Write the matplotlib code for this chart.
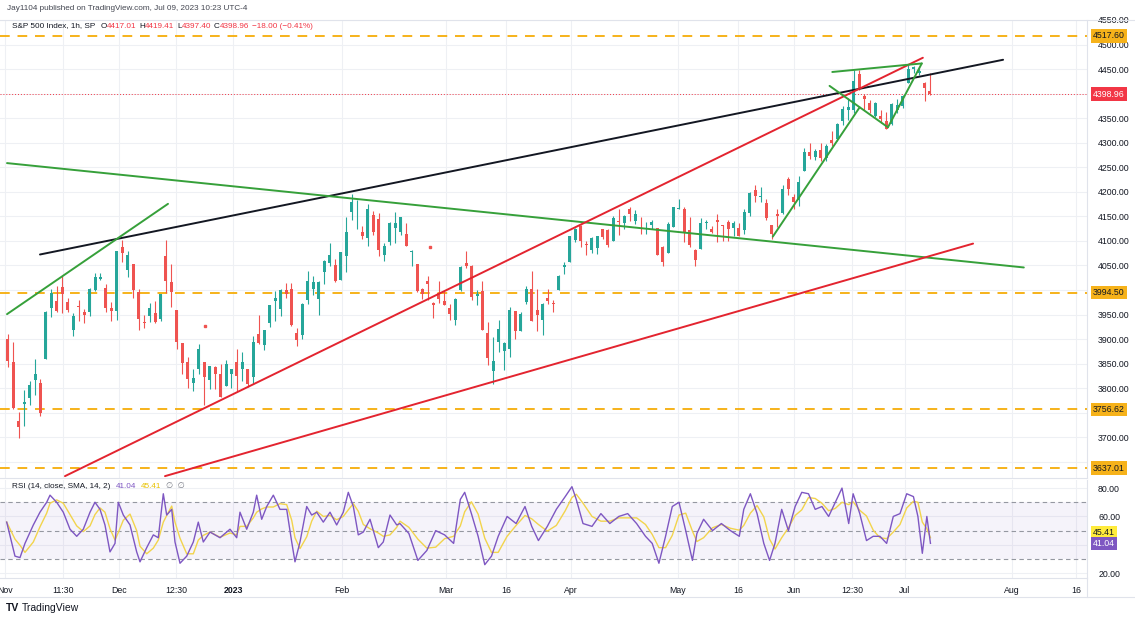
import numpy as np
import pandas as pd
import matplotlib
matplotlib.use("Agg")
import matplotlib.pyplot as plt
from matplotlib.lines import Line2D

W, H = 1135, 619
plt.rcParams['font.family'] = ['Liberation Sans', 'DejaVu Sans']

# S&P 500, one candle per trading day (Nov 1 2022 .. Jul 7 2023)
opens = [3901, 3853, 3733, 3767, 3780, 3817, 3810, 3860, 3964, 3977, 4006, 3976, 3919, 3967, 3956, 3956, 4000, 4023, 4005, 3964, 3958,
         4087, 4041, 4053, 3996, 3934, 3947, 3954, 3940, 4069, 4016, 3959, 3891, 3854, 3811, 3839, 3853, 3816, 3843, 3829, 3805, 3829,
         3853, 3840, 3840, 3823, 3910, 3888, 3932, 3977, 3961, 3999, 4002, 3912, 3909, 3979, 4001, 3982, 4036, 4054, 4050, 4021,
         4070, 4158, 4136, 4119, 4105, 4153, 4144, 4071, 4097, 4126, 4119, 4114, 4077, 4052, 4001, 4018, 3974, 3993, 3977,
         3964, 3938, 3999, 4055, 4049, 3987, 3998, 3912, 3835, 3894, 3876, 3879, 3958, 3917, 3975, 4002, 3959, 3939, 3983, 3974, 3999, 4047, 4056,
         4102, 4130, 4094, 4082, 4085, 4125, 4122, 4100, 4140, 4137, 4164, 4140, 4131, 4132, 4133, 4126, 4088, 4075, 4129,
         4166, 4165, 4122, 4082, 4084, 4136, 4124, 4143, 4133, 4138, 4127, 4127, 4122, 4157, 4204, 4190, 4177, 4132, 4155, 4157, 4226, 4190,
         4183, 4242, 4282, 4271, 4285, 4268, 4305, 4308, 4345, 4366, 4366, 4440, 4396, 4380, 4355, 4354, 4344, 4338, 4367, 4374, 4422,
         4450, 4442, 4422, 4405]
highs = [3911, 3894, 3751, 3796, 3814, 3859, 3818, 3958, 4001, 4009, 4028, 3984, 3954, 3979, 3962, 4004, 4034, 4035, 4012, 3976, 4080,
         4101, 4080, 4053, 4001, 3950, 3974, 3977, 3991, 4101, 4053, 3960, 3891, 3863, 3839, 3889, 3853, 3846, 3846, 3849, 3858, 3840,
         3879, 3874, 3840, 3906, 3950, 3919, 3970, 3997, 4003, 4015, 4014, 3923, 3973, 4039, 4028, 4019, 4061, 4095, 4063, 4077,
         4148, 4195, 4183, 4131, 4176, 4161, 4157, 4095, 4138, 4159, 4148, 4136, 4081, 4052, 4004, 4028, 3976, 4018, 3997,
         3972, 3984, 4048, 4079, 4051, 4000, 4018, 3935, 3905, 3938, 3894, 3965, 3958, 3956, 4009, 4039, 4003, 3973, 4003, 3980, 4031, 4057, 4110,
         4127, 4133, 4100, 4108, 4110, 4125, 4125, 4150, 4164, 4152, 4170, 4162, 4148, 4138, 4143, 4127, 4090, 4139, 4170,
         4186, 4169, 4148, 4083, 4147, 4143, 4131, 4154, 4133, 4143, 4141, 4136, 4164, 4199, 4213, 4210, 4185, 4132, 4166, 4213, 4231, 4195,
         4232, 4290, 4300, 4288, 4299, 4298, 4323, 4340, 4375, 4391, 4448, 4448, 4400, 4387, 4382, 4366, 4363, 4380, 4390, 4398, 4458,
         4456, 4454, 4423, 4443]
lows = [3843, 3758, 3698, 3722, 3766, 3786, 3744, 3860, 3944, 3956, 3953, 3956, 3907, 3936, 3933, 3947, 3998, 4020, 3956, 3937, 3938,
        4057, 4027, 3984, 3918, 3922, 3935, 3933, 3937, 3994, 3966, 3880, 3828, 3800, 3795, 3828, 3765, 3798, 3798, 3783, 3805, 3801,
        3795, 3815, 3802, 3809, 3890, 3878, 3925, 3937, 3947, 3984, 3926, 3886, 3900, 3971, 3990, 3950, 4013, 4048, 4017, 4020,
        4037, 4142, 4124, 4104, 4089, 4113, 4070, 4060, 4092, 4095, 4113, 4089, 4048, 3995, 3981, 3979, 3943, 3974, 3969,
        3939, 3928, 3997, 4044, 3980, 3970, 3918, 3847, 3809, 3874, 3838, 3864, 3901, 3916, 3971, 3936, 3917, 3909, 3971, 3956, 3999, 4032, 4056,
        4098, 4087, 4072, 4076, 4073, 4103, 4087, 4100, 4113, 4124, 4140, 4135, 4114, 4114, 4125, 4071, 4049, 4075, 4128,
        4164, 4097, 4088, 4048, 4084, 4124, 4116, 4098, 4099, 4099, 4110, 4109, 4114, 4150, 4180, 4180, 4142, 4104, 4129, 4155, 4193, 4166,
        4171, 4242, 4267, 4264, 4263, 4262, 4293, 4304, 4337, 4346, 4361, 4407, 4367, 4360, 4352, 4341, 4328, 4337, 4361, 4371, 4422,
        4442, 4437, 4385, 4397]
closes = [3856, 3759, 3720, 3771, 3807, 3828, 3749, 3956, 3993, 3957, 3992, 3959, 3947, 3965, 3950, 4003, 4027, 4026, 3964, 3958, 4080,
          4076, 4072, 3999, 3941, 3933, 3964, 3934, 3991, 4019, 3996, 3895, 3852, 3818, 3821, 3879, 3822, 3845, 3829, 3783, 3849, 3840,
          3825, 3853, 3808, 3895, 3893, 3919, 3970, 3983, 3999, 3991, 3929, 3899, 3972, 4019, 4017, 4016, 4060, 4071, 4018, 4077,
          4119, 4180, 4136, 4111, 4164, 4118, 4082, 4090, 4137, 4136, 4148, 4090, 4079, 3997, 3991, 4012, 3970, 3982, 3970,
          3951, 3981, 4046, 4048, 3986, 3992, 3918, 3862, 3855, 3920, 3892, 3960, 3917, 3951, 4003, 3937, 3949, 3971, 3977, 3971, 4028, 4051, 4109,
          4124, 4100, 4091, 4105, 4109, 4108, 4092, 4146, 4138, 4151, 4154, 4155, 4130, 4133, 4138, 4072, 4056, 4135, 4169,
          4167, 4119, 4091, 4061, 4136, 4138, 4119, 4138, 4130, 4124, 4136, 4110, 4158, 4198, 4192, 4192, 4146, 4115, 4151, 4205, 4206, 4180,
          4221, 4282, 4273, 4284, 4268, 4293, 4299, 4338, 4369, 4373, 4426, 4410, 4389, 4366, 4381, 4348, 4328, 4378, 4376, 4396, 4450,
          4455, 4447, 4411, 4398.96]

# odd single prints
stray_day = [36.65, 77.88]
stray_price = [3926, 4088]

rsi_day = [0.31, 1.83, 2.75, 3.66, 5.19, 6.41, 7.64, 8.25, 9.47, 10.68, 11.91, 13.14, 14.35, 15.58, 16.49, 17.41,
           18.32, 19.24, 20.16, 20.76, 21.68, 22.91, 24.13, 24.74, 25.97, 27.18, 28.09, 29.01, 29.63, 30.55, 31.15,
           32.07, 33.30, 34.51, 35.42, 36.34, 37.57, 39.40, 41.23, 42.46, 43.06, 44.29, 45.50, 46.12, 47.04, 47.96,
           49.17, 50.39, 51.62, 52.54, 53.14, 54.06, 55.29, 56.20, 57.12, 58.33, 59.56, 60.78, 61.99, 62.91, 63.83,
           64.74, 65.66, 66.89, 68.41, 69.32, 70.55, 71.78, 72.38, 74.01, 75.66, 77.30, 78.93, 80.56, 82.21, 83.44,
           84.24, 85.47, 86.70, 87.92, 89.15, 90.38, 92.01, 93.66, 95.29, 96.52, 97.75, 99.38, 101.03, 102.66, 103.89,
           104.69, 105.92, 107.57, 109.20, 110.83, 112.48, 114.11, 115.74, 117.37, 118.60, 119.83, 121.05, 122.28,
           123.51, 124.74, 125.97, 126.79, 128.02, 129.65, 131.28, 132.93, 134.56, 135.38, 136.59, 137.82, 139.05,
           140.11, 141.10, 142.33, 143.56, 144.79, 146.01, 147.24, 148.47, 149.70, 150.93, 152.15, 153.38, 154.61,
           155.42, 156.64, 157.87, 159.10, 160.33, 161.56, 162.78, 164.01, 165.24, 166.47, 167.29, 168.10, 168.93, 169.59]
rsi_val = [56, 32, 31, 41, 54, 63, 70, 75, 70, 63, 51, 46, 51, 63, 70, 65,
           54, 35, 41, 70, 61, 54, 35, 28, 38, 47, 45, 76, 61, 65, 42,
           27, 32, 42, 56, 42, 49, 45, 51, 45, 63, 51, 63, 75, 58, 67,
           75, 65, 65, 42, 28, 42, 67, 61, 63, 56, 63, 54, 63, 77, 67,
           47, 49, 58, 38, 42, 61, 54, 55, 48, 29, 36, 50, 47, 41, 72,
           77, 62, 46, 26, 32, 46, 60, 55, 67, 53, 43, 53, 65, 74, 81,
           72, 55, 53, 62, 55, 60, 62, 55, 46, 41, 27, 46, 67,
           70, 50, 29, 48, 58, 50, 55, 50, 46, 65, 76, 62, 41,
           29, 41, 65, 50, 67, 77, 76, 65, 67, 60, 70, 80, 55,
           76, 62, 43, 46, 46, 41, 60, 62, 76, 74, 60, 34, 60, 41.04]
rsi_last, sma_last = 41.04, 45.41

# drawn trend lines: (days, prices, colour)
trend_lines = [
    ([6.41, 182.9], [4072.3, 4469.0], "#131722"),
    ([0.37, 186.7], [4258.5, 4045.9], "#36a03a"),
    ([0.37, 29.87], [3950.8, 4175.5], "#36a03a"),
    ([10.99, 168.2], [3620.8, 4473.1], "#e3242f"),
    ([29.32, 177.4], [3620.8, 4094.5], "#e3242f"),
    ([151.6, 168.0], [4444.1, 4461.5], "#36a03a"),
    ([151.1, 161.8], [4415.8, 4331.4], "#36a03a"),
    ([161.8, 168.0], [4331.4, 4461.5], "#36a03a"),
    ([140.7, 156.6], [4108.7, 4371.9], "#36a03a"),
]
levels = [4517.60, 3994.50, 3756.62, 3637.01]
last_price = 4398.96

price_ticks = [3650, 3700, 3750, 3800, 3850, 3900, 3950, 4000, 4050, 4100, 4150, 4200,
               4250, 4300, 4350, 4400, 4450, 4500, 4550]
hidden_ticks = [3650, 3750, 4000, 4400]   # covered by the level labels

tick_day = [0, 10.6, 20.9, 31.3, 41.8, 61.8, 80.8, 91.8, 103.7, 123.3, 134.3, 144.6, 155.2, 164.9, 184.5, 196.3]
tick_text = ["Nov", "11:30", "Dec", "12:30", "2023", "Feb", "Mar", "16", "Apr", "May", "16", "Jun", "12:30", "Jul", "Aug", "16"]

UP, DOWN = "#26a69a", "#ef5350"
YEL = "#f6b21a"
PURPLE = "#7e57c2"
GRID = "#eef0f4"
BORDER = "#e0e3eb"
TXT = "#131722"
FS = 6.3
HFS = 5.9


def fx(px):
    return px / W


def fy(py):
    return 1 - py / H


fig = plt.figure(figsize=(W / 100, H / 100), dpi=100)
ax = fig.add_axes([0, fy(478), fx(1087), (478 - 20) / H])
rx = fig.add_axes([0, fy(578), fx(1087), (578 - 480) / H], sharex=ax)

# candles
o, h, l, c = map(np.asarray, (opens, highs, lows, closes))
days = np.arange(len(c)) + 0.5
cols = np.where(c >= o, UP, DOWN)
ax.vlines(days, l, h, colors=cols, lw=0.8, zorder=3)
ax.bar(days, np.maximum(np.abs(c - o), 1.0), bottom=np.minimum(o, c), width=0.55,
       color=cols, linewidth=0, zorder=3)
ax.plot(stray_day, stray_price, 's', color=DOWN, ms=1.6, zorder=3)

for xs, ys, col in trend_lines:
    ax.plot(xs, ys, color=col, lw=1.4, zorder=4, solid_capstyle='round')

for v in levels:
    ax.axhline(v, color=YEL, lw=1.4, dashes=(5, 4), zorder=2)
ax.axhline(last_price, color="#f23645", lw=0.7, dashes=(1, 2), zorder=2)

ax.set_xlim(-5 / 5.457, 1082 / 5.457)
ax.set_ylim(3617, 4544)
ax.set_yticks(price_ticks)
ax.set_yticklabels(["" if v in hidden_ticks else f"{v:.2f}" for v in price_ticks])
ax.yaxis.tick_right()
ax.tick_params(axis='y', length=0, pad=8, labelsize=FS, labelcolor=TXT)
ax.tick_params(axis='x', length=0, labelbottom=False)
ax.set_xticks(tick_day)
ax.grid(True, color=GRID, lw=0.8, zorder=0)
ax.set_axisbelow(True)
for s in ['top', 'left']:
    ax.spines[s].set_visible(False)
for s in ['right', 'bottom']:
    ax.spines[s].set_color(BORDER)

# price labels on the scale
for v in levels:
    ax.annotate(f"{v:.2f}", xy=(1.0, v), xycoords=('axes fraction', 'data'), xytext=(6, 0),
                textcoords='offset pixels', va='center', ha='left', fontsize=FS, color=TXT,
                bbox=dict(boxstyle='square,pad=0.25', fc=YEL, ec='none'), annotation_clip=False, zorder=5)
ax.annotate(f"{last_price:.2f}", xy=(1.0, last_price), xycoords=('axes fraction', 'data'), xytext=(6, 0),
            textcoords='offset pixels', va='center', ha='left', fontsize=FS, color='white',
            bbox=dict(boxstyle='square,pad=0.25', fc="#f23645", ec='none'), annotation_clip=False, zorder=5)

# RSI pane
rsi_sma = pd.Series(rsi_val).rolling(3, min_periods=1).mean()
rx.axhspan(30, 70, color=PURPLE, alpha=0.07, lw=0, zorder=1)
for v in (70, 50, 30):
    rx.axhline(v, color="#9598a1", lw=0.8, dashes=(4, 3), zorder=2)
rx.plot(rsi_day, rsi_sma, color="#f2d44c", lw=1.0, zorder=3)
rx.plot(rsi_day, rsi_val, color=PURPLE, lw=1.0, zorder=4)
rx.set_ylim(16.6, 85.7)
rx.set_yticks([20, 40, 60, 80])
rx.set_yticklabels(["20.00", "", "60.00", "80.00"])
rx.yaxis.tick_right()
rx.tick_params(axis='y', length=0, pad=8, labelsize=FS, labelcolor=TXT)
rx.set_xticks(tick_day)
rx.set_xticklabels(tick_text)
rx.tick_params(axis='x', length=0, pad=6, labelsize=FS, labelcolor=TXT)
for t in rx.get_xticklabels():
    if t.get_text() == "2023":
        t.set_fontweight('bold')
rx.grid(True, color=GRID, lw=0.8, zorder=0)
rx.set_axisbelow(True)
for s in ['top', 'left']:
    rx.spines[s].set_visible(False)
for s in ['right', 'bottom']:
    rx.spines[s].set_color(BORDER)
rx.annotate(f"{sma_last:.2f}", xy=(1.0, 48.6), xycoords=('axes fraction', 'data'), xytext=(6, 0),
            textcoords='offset pixels', va='center', ha='left', fontsize=FS, color=TXT,
            bbox=dict(boxstyle='square,pad=0.25', fc="#ffeb3b", ec='none'), annotation_clip=False, zorder=5)
rx.annotate(f"{rsi_last:.2f}", xy=(1.0, 41.04), xycoords=('axes fraction', 'data'), xytext=(6, 0),
            textcoords='offset pixels', va='center', ha='left', fontsize=FS, color='white',
            bbox=dict(boxstyle='square,pad=0.25', fc=PURPLE, ec='none'), annotation_clip=False, zorder=5)

# frame lines
fig.add_artist(Line2D([0, 1], [fy(597), fy(597)], color=BORDER, lw=0.8))
fig.add_artist(Line2D([fx(1087), fx(1087)], [fy(578), fy(597)], color=BORDER, lw=0.8))
fig.add_artist(Line2D([0, 1], [fy(20), fy(20)], color=BORDER, lw=0.8))

# header texts
renderer = fig.canvas.get_renderer()


def text_run(x_px, y_px, pieces, size):
    x = x_px
    for s, col, gap in pieces:
        t = fig.text(fx(x), fy(y_px), s, color=col, fontsize=size, va='center', ha='left')
        x += t.get_window_extent(renderer=renderer).width + gap


RED = "#f23645"
fig.text(fx(7), fy(8), "Jay1104 published on TradingView.com, Jul 09, 2023 10:23 UTC-4",
         fontsize=HFS, color="#434651", va='center', ha='left')
text_run(12, 26, [("S&P 500 Index, 1h, SP", TXT, 5), ("O", TXT, 0), ("4417.01", RED, 3),
                  ("H", TXT, 0), ("4419.41", RED, 3), ("L", TXT, 0), ("4397.40", RED, 3),
                  ("C", TXT, 0), ("4398.96", RED, 3), ("\u221218.00 (\u22120.41%)", RED, 0)], HFS)
text_run(12, 486, [("RSI (14, close, SMA, 14, 2)", TXT, 5), ("41.04", PURPLE, 5),
                   ("45.41", "#e8c200", 5), ("\u2205  \u2205", "#787b86", 0)], HFS)

fig.text(fx(6), fy(608), "TV", fontsize=7.5, fontweight='bold', color=TXT, va='center', ha='left')
fig.text(fx(22), fy(608), "TradingView", fontsize=7.5, color=TXT, va='center', ha='left')

fig.savefig("out.png", dpi=100, facecolor='white')
